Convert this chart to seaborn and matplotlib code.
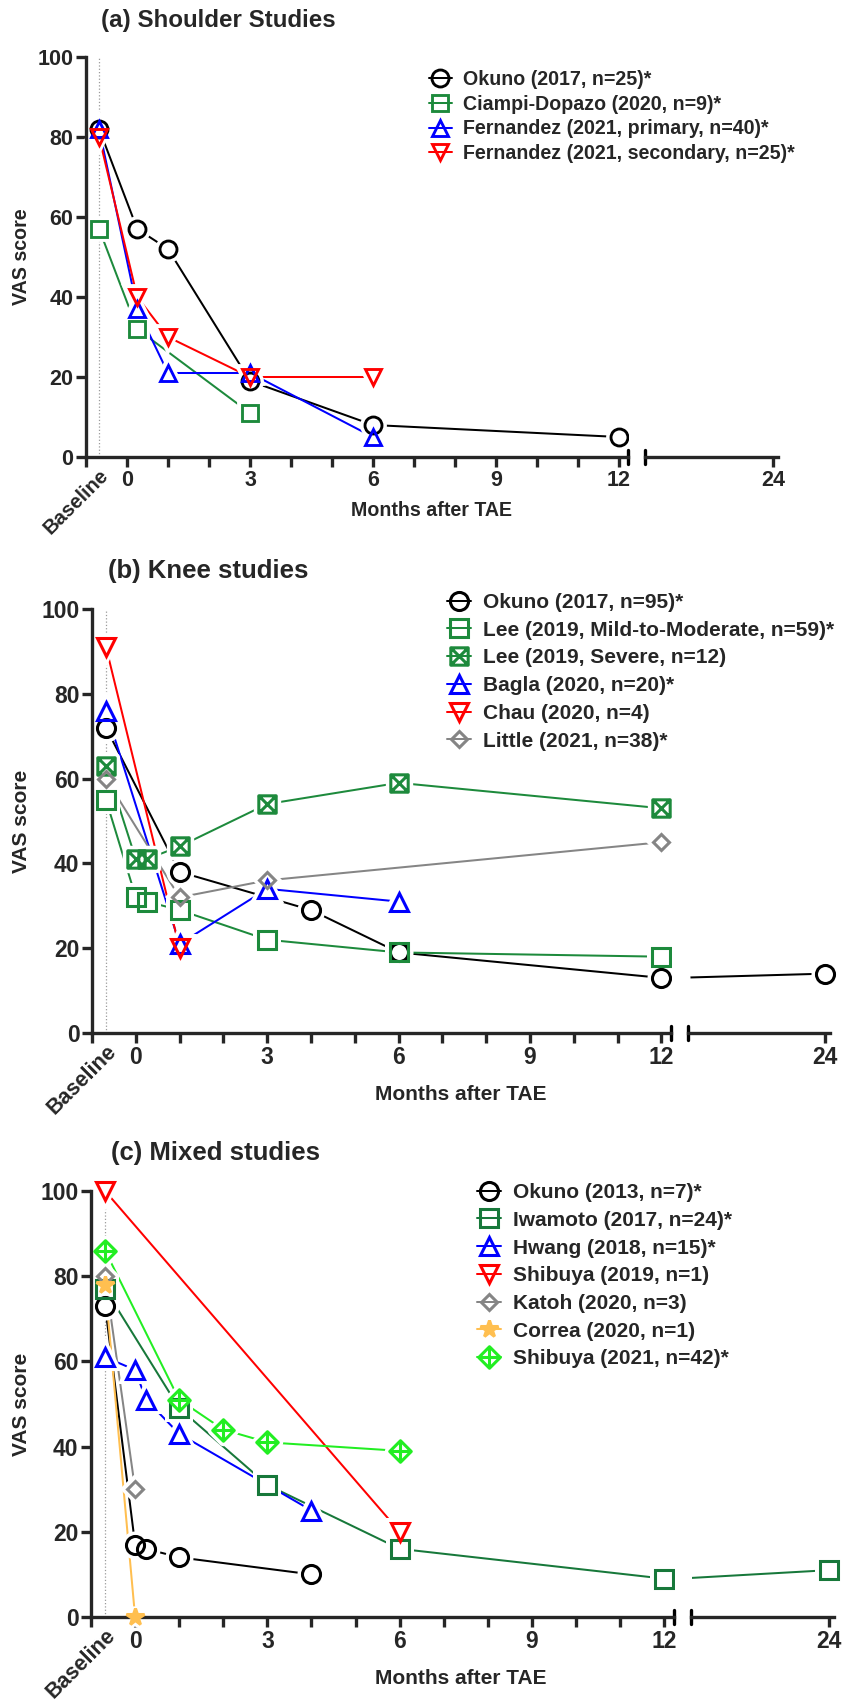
import matplotlib
matplotlib.use('Agg')
import matplotlib.pyplot as plt
import seaborn as sns
from matplotlib.path import Path
from matplotlib.transforms import Bbox, TransformedBbox

sns.set_style('ticks')
plt.rcParams['font.family'] = ['Liberation Sans', 'DejaVu Sans']
plt.rcParams['font.weight'] = 'bold'
plt.rcParams['axes.labelweight'] = 'bold'

W, H = 850, 1703
B = -0.68   # where "Baseline" sits on the month axis

# ---- data (VAS score) ----
sh_labels = ['Okuno (2017, n=25)*', 'Ciampi-Dopazo (2020, n=9)*',
             'Fernandez (2021, primary, n=40)*', 'Fernandez (2021, secondary, n=25)*']
sh_x = [[B, 0.25, 1, 3, 6, 12], [B, 0.25, 3], [B, 0.25, 1, 3, 6], [B, 0.25, 1, 3, 6]]
sh_y = [[82, 57, 52, 19, 8, 5], [57, 32, 11], [82, 37, 21, 21, 5], [80, 40, 30, 20, 20]]

kn_labels = ['Okuno (2017, n=95)*', 'Lee (2019, Mild-to-Moderate, n=59)*',
             'Lee (2019, Severe, n=12)', 'Bagla (2020, n=20)*', 'Chau (2020, n=4)',
             'Little (2021, n=38)*']
kn_x = [[B, 1, 4, 6, 12, 24], [B, 0, 0.25, 1, 3, 6, 12], [B, 0, 0.25, 1, 3, 6, 12],
        [B, 1, 3, 6], [B, 1], [B, 1, 3, 12]]
kn_y = [[72, 38, 29, 19, 13, 14], [55, 32, 31, 29, 22, 19, 18], [63, 41, 41, 44, 54, 59, 53],
        [76, 21, 34, 31], [91, 20], [60, 32, 36, 45]]

mx_labels = ['Okuno (2013, n=7)*', 'Iwamoto (2017, n=24)*', 'Hwang (2018, n=15)*',
             'Shibuya (2019, n=1)', 'Katoh (2020, n=3)', 'Correa (2020, n=1)',
             'Shibuya (2021, n=42)*']
mx_x = [[B, 0, 0.25, 1, 4], [B, 1, 3, 6, 12, 24], [B, 0, 0.25, 1, 4], [B, 6], [B, 0], [B, 0],
        [B, 1, 2, 3, 6]]
mx_y = [[73, 17, 16, 14, 10], [77, 49, 31, 16, 9, 11], [61, 58, 51, 43, 25], [100, 20],
        [80, 30], [78, 0], [86, 51, 44, 41, 39]]

month_ticks = list(range(-1, 13))
month_labels = ['' if m % 3 else str(m) for m in month_ticks]
score_ticks = [0, 20, 40, 60, 80, 100]

# ---- markers ----
M, L, C = Path.MOVETO, Path.LINETO, Path.CLOSEPOLY
sq_x = Path([(-1, -1), (1, -1), (1, 1), (-1, 1), (-1, -1), (-1, -1), (1, 1), (-1, 1), (1, -1)],
            [M, L, L, L, C, M, L, M, L])
dia_plus = Path([(0, -1), (1, 0), (0, 1), (-1, 0), (0, -1), (0, -1), (0, 1), (-1, 0), (1, 0)],
                [M, L, L, L, C, M, L, M, L])

BLACK, GREEN, BLUE, RED = '#000000', '#1d8a3c', '#0000ff', '#ff0000'
GREY, ORANGE, LIME, DGREEN = '#858585', '#ffbf50', '#22ee22', '#17783a'

sty = {
    'o': dict(marker='o', ms=13), 's': dict(marker='s', ms=12.5),
    '^': dict(marker='^', ms=13), 'v': dict(marker='v', ms=13),
    'D': dict(marker='D', ms=8.5), '*': dict(marker='*', ms=13),
    'sx': dict(marker=sq_x, ms=12.5), 'dp': dict(marker=dia_plus, ms=15.5),
}

fig = plt.figure(figsize=(W / 100, H / 100), dpi=100)


def px_axes(x0, x1, top, bottom):
    a = fig.add_axes([x0 / W, 1 - bottom / H, (x1 - x0) / W, (bottom - top) / H])
    a.patch.set_visible(False)
    return a


def panel(box, rbox, labels, xs, ys, colors, marks, k, title, title_xy, leg_xy,
          ylab_xy, xlab_xy, spacing):
    ax = px_axes(box[0], box[1], box[2], box[3])
    axr = px_axes(rbox[0], rbox[1], box[2], box[3])
    fs = 15 * k
    tfs = 16.5 * k
    mew = 2.2 * k
    for a in (ax, axr):
        for lab, x, y, c, m in zip(labels, xs, ys, colors, marks):
            s = sty[m]
            fill = c if m == '*' else 'none'
            ms = s['ms'] * k
            # line + marker (this one goes in the legend)
            sns.lineplot(x=x, y=y, ax=a, color=c, marker=s['marker'], markersize=ms,
                         markerfacecolor=fill, markeredgecolor=c, markeredgewidth=mew,
                         linewidth=1.45, errorbar=None, label=lab, zorder=2)
            # white halo so the line stops short of the symbol
            sns.lineplot(x=x, y=y, ax=a, color='white', marker=s['marker'], markersize=ms,
                         markerfacecolor='white', markeredgecolor='white',
                         markeredgewidth=mew + 5, linestyle='none', errorbar=None, zorder=3)
            # symbol on top
            sns.lineplot(x=x, y=y, ax=a, color=c, marker=s['marker'], markersize=ms,
                         markerfacecolor=fill, markeredgecolor=c, markeredgewidth=mew,
                         linestyle='none', errorbar=None, zorder=4)
        a.set_ylim(0, 100)
        a.set_xlabel('')
        a.set_ylabel('')
        for sp in a.spines.values():
            sp.set_linewidth(2.4)
            sp.set_zorder(3.5)
        a.tick_params(direction='out', length=7, width=2.4, labelsize=tfs, pad=2)
    ax.set_xlim(-1, 12.22)
    axr.set_xlim(13.0, 24.4)
    ax.set_xticks(month_ticks, month_labels)
    ax.set_xticks([B], ['Baseline'], minor=True)
    ax.tick_params(axis='x', which='minor', length=0, pad=6, labelsize=fs + 0.5)
    for t in ax.get_xticklabels(minor=True):
        t.set_rotation(45)
        t.set_ha('right')
        t.set_va('top')
        t.set_rotation_mode('anchor')
    ax.set_yticks(score_ticks)
    axr.set_xticks([24], ['24'])
    axr.set_yticks([])
    for sp in ('top', 'right'):
        ax.spines[sp].set_visible(False)
    for sp in ('top', 'right', 'left'):
        axr.spines[sp].set_visible(False)
    ax.axvline(B, color='#9a9a9a', lw=0.9, ls=':', zorder=1)
    hb = 7 / (box[3] - box[2])
    ax.plot([1, 1], [-hb, hb], transform=ax.transAxes, color='k', lw=2.4, clip_on=False)
    axr.plot([0, 0], [-hb, hb], transform=axr.transAxes, color='k', lw=2.4, clip_on=False)
    for ln in ax.lines:
        ln.set_clip_box(TransformedBbox(Bbox([[-0.1, -0.1], [1.0, 1.1]]), ax.transAxes))
    for ln in axr.lines:
        ln.set_clip_box(TransformedBbox(Bbox([[0.0, -0.1], [1.1, 1.1]]), axr.transAxes))
    if axr.get_legend():
        axr.get_legend().remove()
    handles, labs = ax.get_legend_handles_labels()
    leg = ax.legend(handles, labs, loc='upper left',
                    bbox_to_anchor=(leg_xy[0] / W, 1 - leg_xy[1] / H),
                    bbox_transform=fig.transFigure, frameon=False, borderpad=0,
                    borderaxespad=0, handlelength=1.15, handletextpad=0.6,
                    labelspacing=spacing, fontsize=fs)
    leg.set_zorder(10)
    fig.text(title_xy[0] / W, 1 - title_xy[1] / H, title, ha='left', va='center',
             fontsize=18.5 * k)
    fig.text(ylab_xy[0] / W, 1 - ylab_xy[1] / H, 'VAS score', rotation=90, ha='center',
             va='center', fontsize=fs)
    fig.text(xlab_xy[0] / W, 1 - xlab_xy[1] / H, 'Months after TAE', ha='center',
             va='center', fontsize=fs)


panel((86, 628, 57, 457), (645, 778), sh_labels, sh_x, sh_y,
      [BLACK, GREEN, BLUE, RED], ['o', 's', '^', 'v'], 0.94,
      '(a) Shoulder Studies', (101, 20), (429, 70), (22, 257), (432, 511), 0.29)

panel((92, 671, 609, 1033), (688, 830), kn_labels, kn_x, kn_y,
      [BLACK, GREEN, GREEN, BLUE, RED, GREY], ['o', 's', 'sx', '^', 'v', 'D'], 1.0,
      '(b) Knee studies', (108, 571), (447, 593), (22, 821), (461, 1094), 0.42)

panel((91, 674, 1191, 1617), (691, 834), mx_labels, mx_x, mx_y,
      [BLACK, DGREEN, BLUE, RED, GREY, ORANGE, LIME], ['o', 's', '^', 'v', 'D', '*', 'dp'], 1.0,
      '(c) Mixed studies', (111, 1153), (477, 1183), (22, 1404), (461, 1678), 0.42)

fig.savefig('out.png', dpi=100)
